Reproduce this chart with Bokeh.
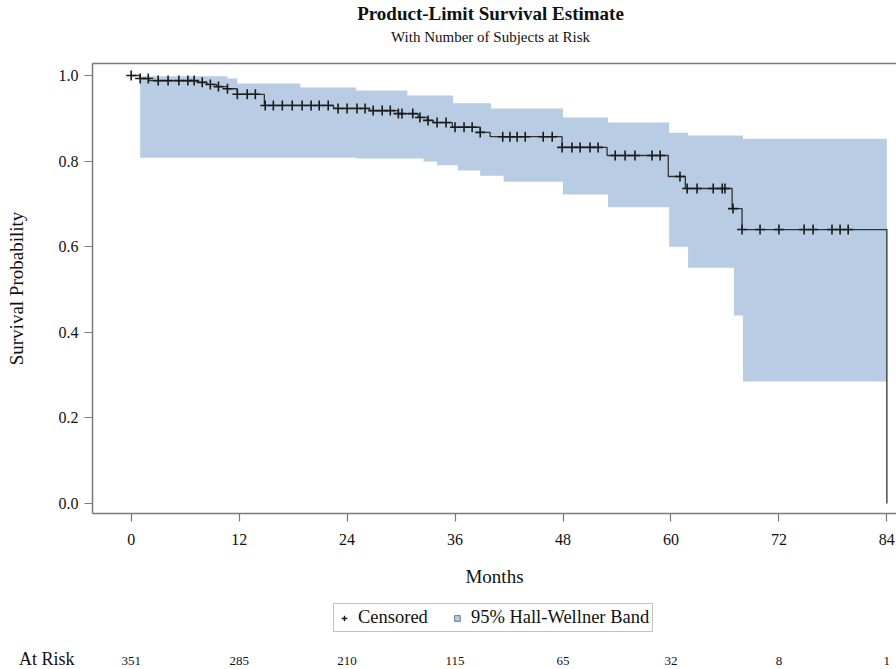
import numpy as np
from bokeh.plotting import figure
from bokeh.layouts import column
from bokeh.models import (Range1d, FixedTicker, LinearAxis, Legend, LegendItem)
from bokeh.core.properties import value
from bokeh.embed import file_html
from bokeh.resources import INLINE

FONT = "Liberation Serif"

# Kaplan-Meier step estimate (time in months, survival after the step)
step_times = [0.0, 1.0, 2.0, 7.3, 8.4, 9.5, 10.7, 11.8, 14.8, 22.5, 26.5, 29.7, 31.9,
              32.9, 33.6, 35.7, 38.8, 39.9, 47.9, 52.9, 59.7, 61.6, 66.8, 67.9]
step_surv = [1.0, 0.993, 0.988, 0.984, 0.979, 0.974, 0.969, 0.956, 0.930, 0.923, 0.918,
             0.911, 0.902, 0.895, 0.890, 0.879, 0.867, 0.857, 0.832, 0.813, 0.764, 0.736,
             0.689, 0.640]
end_time = 84.0

# Censoring times (months)
censor_times = [0.0, 1.0, 1.9, 3.0, 4.1, 5.3, 6.3, 7.0, 7.9, 8.8, 9.7, 10.7, 11.8, 12.9,
                13.8, 14.9, 15.8, 16.8, 17.9, 19.0, 20.0, 20.9, 21.9, 23.0, 24.0, 25.1,
                26.0, 26.9, 27.9, 28.8, 29.7, 30.1, 31.3, 32.1, 33.0, 34.0, 35.0, 36.0,
                37.0, 37.9, 38.8, 41.3, 42.1, 42.9, 43.8, 45.8, 46.8, 47.9, 49.0, 49.9,
                51.0, 51.9, 53.8, 54.9, 56.0, 57.9, 58.8, 61.0, 61.8, 62.9, 64.7, 65.7,
                66.0, 66.9, 67.9, 69.9, 72.0, 74.8, 75.8, 77.9, 78.8, 79.7]

# 95% Hall-Wellner band
band_times = [1.0, 10.7, 11.8, 18.8, 25.0, 30.7, 32.5, 34.0, 35.8, 36.3, 38.8, 40.0,
              41.4, 48.0, 53.0, 59.8, 61.9, 67.0, 68.0, 84.0]
band_upper = [0.998, 0.993, 0.981, 0.972, 0.965, 0.953, 0.953, 0.953, 0.935, 0.935,
              0.935, 0.923, 0.923, 0.902, 0.890, 0.866, 0.860, 0.860, 0.852, 0.852]
band_lower = [0.808, 0.808, 0.808, 0.808, 0.806, 0.806, 0.799, 0.790, 0.790, 0.778,
              0.766, 0.766, 0.752, 0.722, 0.692, 0.600, 0.551, 0.439, 0.285, 0.285]

x_ticks = [0, 12, 24, 36, 48, 60, 72, 84]
y_ticks = [0.0, 0.2, 0.4, 0.6, 0.8, 1.0]
at_risk = [351, 285, 210, 115, 65, 32, 8, 1]

title_text = "Product-Limit Survival Estimate"
subtitle_text = "With Number of Subjects at Risk"
legend_labels = ["Censored", "95% Hall-Wellner Band"]

AXIS_COLOR = "#7a7a7a"
TEXT_COLOR = "#111111"
BAND_COLOR = "#b8cce4"
W = 896

# ---------------- title strip (frame aligned with main plot: 92..896 px) ----------------
pt = figure(width=W, height=50, output_backend="svg", toolbar_location=None,
            x_range=Range1d(92, W), y_range=Range1d(0, 50),
            min_border_left=92, min_border_right=0,
            min_border_top=0, min_border_bottom=0, title=None)
pt.axis.visible = False
pt.grid.visible = False
pt.outline_line_color = None
pt.text(x=[490], y=[37], text=[title_text], text_align="center", text_baseline="middle",
        text_font=value(FONT), text_font_style="bold", text_font_size="19px",
        text_color=TEXT_COLOR)
pt.text(x=[490], y=[14], text=[subtitle_text], text_align="center", text_baseline="middle",
        text_font=value(FONT), text_font_size="15px", text_color=TEXT_COLOR)

# ---------------- main plot ----------------
p = figure(width=W, height=545, output_backend="svg", toolbar_location=None,
           x_range=Range1d(-4.30, 85.07), y_range=Range1d(-0.0234, 1.028),
           min_border_left=92, min_border_right=0, min_border_top=13,
           min_border_bottom=82, title=None)
p.outline_line_color = None
p.xgrid.visible = False
p.ygrid.visible = False

xa = p.xaxis[0]
xa.ticker = FixedTicker(ticks=x_ticks)
xa.axis_label = "Months"
ya = p.yaxis[0]
ya.ticker = FixedTicker(ticks=y_ticks)
ya.major_label_overrides = {v: f"{v:.1f}" for v in y_ticks}
ya.axis_label = "Survival Probability"
for ax in (xa, ya):
    ax.axis_line_color = AXIS_COLOR
    ax.axis_line_width = 1.5
    ax.major_tick_line_color = AXIS_COLOR
    ax.major_tick_line_width = 1.2
    ax.major_tick_out = 8
    ax.major_tick_in = 0
    ax.minor_tick_line_color = None
    ax.major_label_text_font = FONT
    ax.major_label_text_font_size = "16px"
    ax.major_label_text_color = TEXT_COLOR
    ax.axis_label_text_font = FONT
    ax.axis_label_text_font_style = "normal"
    ax.axis_label_text_font_size = "19px"
    ax.axis_label_text_color = TEXT_COLOR
xa.major_label_standoff = 12
xa.axis_label_standoff = 18
ya.major_label_standoff = 6
ya.axis_label_standoff = 29

top_axis = LinearAxis(ticker=FixedTicker(ticks=[]), axis_line_color=AXIS_COLOR,
                      axis_line_width=1.5, major_tick_line_color=None,
                      major_tick_out=0, major_label_standoff=0,
                      minor_tick_line_color=None, major_label_text_font_size="0px")
p.add_layout(top_axis, "above")

p.varea_step(x=band_times, y1=band_lower, y2=band_upper, step_mode="after",
             fill_color=BAND_COLOR, fill_alpha=1.0)

curve_x = list(step_times) + [end_time, end_time]
curve_y = list(step_surv) + [step_surv[-1], 0.0]
p.step(x=curve_x, y=curve_y, mode="after", line_color="#333333", line_width=1.3)

idx = np.searchsorted(np.array(step_times), np.array(censor_times), side="right") - 1
censor_y = [step_surv[i] for i in idx]
p.scatter(x=censor_times, y=censor_y, marker="cross", size=10,
          line_color="#1a1a1a", line_width=1.6)

# ---------------- legend + at-risk strip ----------------
pr = figure(width=W, height=74, output_backend="svg", toolbar_location=None,
            x_range=p.x_range, y_range=Range1d(0, 74),
            min_border_left=92, min_border_right=0, min_border_top=0,
            min_border_bottom=0, title=None)
pr.outline_line_color = None
pr.grid.visible = False
pr.xaxis.visible = False
ra = pr.yaxis[0]
ra.ticker = FixedTicker(ticks=[9])
ra.major_label_overrides = {9: "At Risk"}
ra.axis_line_color = None
ra.major_tick_line_color = None
ra.minor_tick_line_color = None
ra.major_label_standoff = 12
ra.major_label_text_font = FONT
ra.major_label_text_font_size = "18px"
ra.major_label_text_color = TEXT_COLOR

pr.text(x=x_ticks, y=[9] * len(x_ticks), text=[str(n) for n in at_risk],
        text_align="center", text_baseline="middle", text_font=value(FONT),
        text_font_size="13px", text_color=TEXT_COLOR)

# legend proxies (single hidden point below the strip's visible range)
proxy_x = [censor_times[0]]
proxy_y = [-1000.0]
leg_cross = pr.scatter(x=proxy_x, y=proxy_y, marker="cross", size=12,
                       line_color="#1a1a1a", line_width=1.4)
leg_band = pr.scatter(x=proxy_x, y=proxy_y, marker="square", size=12,
                      fill_color=BAND_COLOR, line_color="#6f8fb8", line_width=1.2)
legend = Legend(items=[LegendItem(label=legend_labels[0], renderers=[leg_cross]),
                       LegendItem(label=legend_labels[1], renderers=[leg_band])],
                orientation="horizontal", location=(241, 37))
legend.label_text_font = FONT
legend.label_text_font_size = "18.5px"
legend.label_text_color = TEXT_COLOR
legend.label_height = 18
legend.glyph_width = 14
legend.glyph_height = 14
legend.label_standoff = 7
legend.spacing = 22
legend.padding = 3
legend.margin = 0
legend.border_line_color = "#888888"
legend.border_line_width = 1
legend.background_fill_alpha = 1.0
pr.add_layout(legend)

layout = column(pt, p, pr, spacing=0)
open("out.html", "w").write(file_html(layout, INLINE))
